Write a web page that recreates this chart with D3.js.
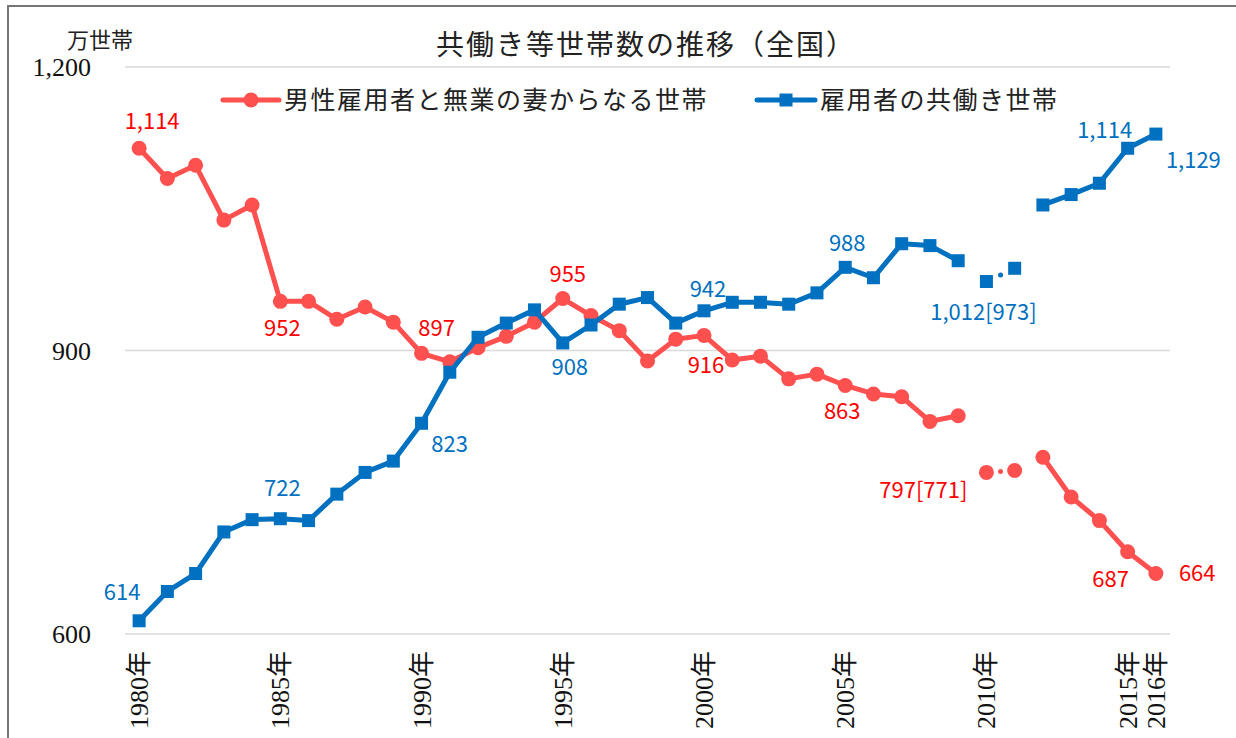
<!DOCTYPE html>
<html>
<head>
<meta charset="utf-8">
<script src="https://cdn.jsdelivr.net/npm/d3@7"></script>
<style>
  body { margin: 0; background: #fff; }
  svg { display: block; }
</style>
</head>
<body>
<svg id="chart"></svg>
<script>
// categories
var years = [1980, 1981, 1982, 1983, 1984, 1985, 1986, 1987, 1988, 1989,
             1990, 1991, 1992, 1993, 1994, 1995, 1996, 1997, 1998, 1999,
             2000, 2001, 2002, 2003, 2004, 2005, 2006, 2007, 2008, 2009,
             2010, 2011, 2012, 2013, 2014, 2015, 2016];

// 男性雇用者と無業の妻からなる世帯 (2010, 2011 are without Iwate, Miyagi, Fukushima)
var housewifeHH = [1114, 1082, 1096, 1038, 1054, 952, 952, 933, 946, 930,
                   897, 888, 903, 915, 930, 955, 937, 921, 889, 912,
                   916, 890, 894, 870, 875, 863, 854, 851, 825, 831,
                   771, 773, 787, 745, 720, 687, 664];

// 雇用者の共働き世帯
var dualIncomeHH = [614, 645, 664, 708, 721, 722, 720, 748, 771, 783,
                    823, 877, 914, 929, 943, 908, 927, 949, 956, 929,
                    942, 951, 951, 949, 961, 988, 977, 1013, 1011, 995,
                    973, 987, 1054, 1065, 1077, 1114, 1129];

// whole-country figures for 2010 (shown in the label, outside the brackets)
var housewife2010All = 797;
var dualIncome2010All = 1012;

var dottedYears = [2010, 2011];
var yTicks = [600, 900, 1200];
var xTickYears = [1980, 1985, 1990, 1995, 2000, 2005, 2010, 2015, 2016];
var seriesNames = ["男性雇用者と無業の妻からなる世帯", "雇用者の共働き世帯"];

var width = 1236, height = 738;
var plot = { left: 125, right: 1170, top: 67, bottom: 634 };

var red = "#ff5050", blue = "#0070c0";
var labelFont = "'Noto Sans CJK JP', 'Noto Sans', sans-serif";
var serifFont = "'Liberation Serif', 'DejaVu Serif', 'Noto Sans CJK JP', serif";

// label offsets relative to the point they describe
var redLabelPos = {
  1980: [13, -27, "middle"], 1985: [2, 27, "middle"], 1990: [15, -25, "middle"],
  1995: [5, -24, "middle"], 2000: [2, 30, "middle"], 2005: [-3, 26, "middle"],
  2010: [-19, 18, "end"], 2015: [-17, 28, "middle"], 2016: [23, 0, "start"]
};
var blueLabelPos = {
  1980: [-17, -28, "middle"], 1985: [2, -30, "middle"], 1990: [28, 21, "middle"],
  1995: [7, 24, "middle"], 2000: [4, -22, "middle"], 2005: [2, -24, "middle"],
  2010: [-3, 31, "middle"], 2015: [-23, -18, "middle"], 2016: [10, 26, "start"]
};

var svg = d3.select("#chart")
  .attr("width", width)
  .attr("height", height);

// chart border
svg.append("rect")
  .attr("x", 8).attr("y", 6)
  .attr("width", width + 20).attr("height", height + 20)
  .attr("fill", "#fff")
  .attr("stroke", "#767676")
  .attr("stroke-width", 2);

var x = d3.scalePoint().domain(years).range([plot.left, plot.right]).padding(0.5);
var y = d3.scaleLinear().domain([600, 1200]).range([plot.bottom, plot.top]);

// gridlines
svg.append("g")
  .selectAll("line").data(yTicks).enter().append("line")
    .attr("x1", plot.left).attr("x2", plot.right)
    .attr("y1", d => y(d)).attr("y2", d => y(d))
    .attr("stroke", "#d9d9d9")
    .attr("stroke-width", 1.5);

// y axis labels
var fmt = d3.format(",");
svg.append("g")
  .style("font-family", serifFont)
  .style("font-size", "26px")
  .selectAll("text").data(yTicks).enter().append("text")
    .attr("x", 91)
    .attr("y", d => y(d))
    .attr("dy", "0.35em")
    .attr("text-anchor", "end")
    .attr("fill", "#111")
    .text(d => fmt(d));

svg.append("text")
  .attr("x", 100).attr("y", 48)
  .attr("text-anchor", "middle")
  .style("font-family", labelFont)
  .style("font-size", "22px")
  .attr("fill", "#222")
  .text("万世帯");

// x axis labels (vertical)
svg.append("g")
  .style("font-family", serifFont)
  .style("font-size", "26px")
  .selectAll("text").data(xTickYears).enter().append("text")
    .attr("transform", d => "translate(" + (x(d) + 9) + ",651) rotate(-90)")
    .attr("text-anchor", "end")
    .attr("fill", "#111")
    .text(d => d + "年");

// title
svg.append("text")
  .attr("x", 646).attr("y", 55)
  .attr("text-anchor", "middle")
  .style("font-family", labelFont)
  .style("font-size", "28px")
  .style("letter-spacing", "2px")
  .attr("fill", "#222")
  .text("共働き等世帯数の推移（全国）");

function drawSeries(values, color, marker) {
  var g = svg.append("g");
  var pts = years.map((yr, i) => ({ year: yr, v: values[i] }));

  var line = d3.line()
    .defined(d => dottedYears.indexOf(d.year) < 0)
    .x(d => x(d.year))
    .y(d => y(d.v));

  g.append("path")
    .datum(pts)
    .attr("d", line)
    .attr("fill", "none")
    .attr("stroke", color)
    .attr("stroke-width", 5)
    .attr("stroke-linejoin", "round");

  // dotted link between the two partial-coverage years
  var dp = pts.filter(d => dottedYears.indexOf(d.year) >= 0);
  var len = Math.hypot(x(dp[1].year) - x(dp[0].year), y(dp[1].v) - y(dp[0].v));
  g.append("path")
    .datum(dp)
    .attr("d", d3.line().x(d => x(d.year)).y(d => y(d.v)))
    .attr("fill", "none")
    .attr("stroke", color)
    .attr("stroke-width", 5)
    .attr("stroke-linecap", "round")
    .attr("stroke-dasharray", "0," + (len / 2));

  if (marker == "circle") {
    g.selectAll("circle").data(pts).enter().append("circle")
      .attr("cx", d => x(d.year))
      .attr("cy", d => y(d.v))
      .attr("r", 7.5)
      .attr("fill", color);
  } else {
    g.selectAll("rect").data(pts).enter().append("rect")
      .attr("x", d => x(d.year) - 6.5)
      .attr("y", d => y(d.v) - 6.5)
      .attr("width", 13).attr("height", 13)
      .attr("fill", color);
  }
  return pts;
}

function drawLabels(pts, pos, color, allValue) {
  svg.append("g")
    .style("font-family", labelFont)
    .style("font-size", "22px")
    .selectAll("text").data(pts.filter(d => pos[d.year])).enter().append("text")
      .attr("x", d => x(d.year) + pos[d.year][0])
      .attr("y", d => y(d.v) + pos[d.year][1])
      .attr("dy", "0.35em")
      .attr("text-anchor", d => pos[d.year][2])
      .attr("fill", color)
      .text(d => d.year == 2010 ? fmt(allValue) + "[" + fmt(d.v) + "]" : fmt(d.v));
}

var redPts = drawSeries(housewifeHH, red, "circle");
var bluePts = drawSeries(dualIncomeHH, blue, "square");
drawLabels(redPts, redLabelPos, "#ff0000", housewife2010All);
drawLabels(bluePts, blueLabelPos, blue, dualIncome2010All);

// legend
var legend = [
  { name: seriesNames[0], color: red, marker: "circle", x0: 223, x1: 279 },
  { name: seriesNames[1], color: blue, marker: "square", x0: 757, x1: 815 }
];
var lg = svg.append("g").selectAll("g").data(legend).enter().append("g");
lg.append("line")
  .attr("x1", d => d.x0).attr("x2", d => d.x1)
  .attr("y1", 100).attr("y2", 100)
  .attr("stroke", d => d.color)
  .attr("stroke-width", 5)
  .attr("stroke-linecap", "round");
lg.filter(d => d.marker == "circle").append("circle")
  .attr("cx", d => (d.x0 + d.x1) / 2).attr("cy", 100).attr("r", 7.5)
  .attr("fill", d => d.color);
lg.filter(d => d.marker == "square").append("rect")
  .attr("x", d => (d.x0 + d.x1) / 2 - 6.5).attr("y", 93.5)
  .attr("width", 13).attr("height", 13)
  .attr("fill", d => d.color);
lg.append("text")
  .attr("x", d => d.x1 + 5).attr("y", 100)
  .attr("dy", "0.36em")
  .style("font-family", labelFont)
  .style("font-size", "25px")
  .style("letter-spacing", "1.5px")
  .attr("fill", "#222")
  .text(d => d.name);
</script>
</body>
</html>
